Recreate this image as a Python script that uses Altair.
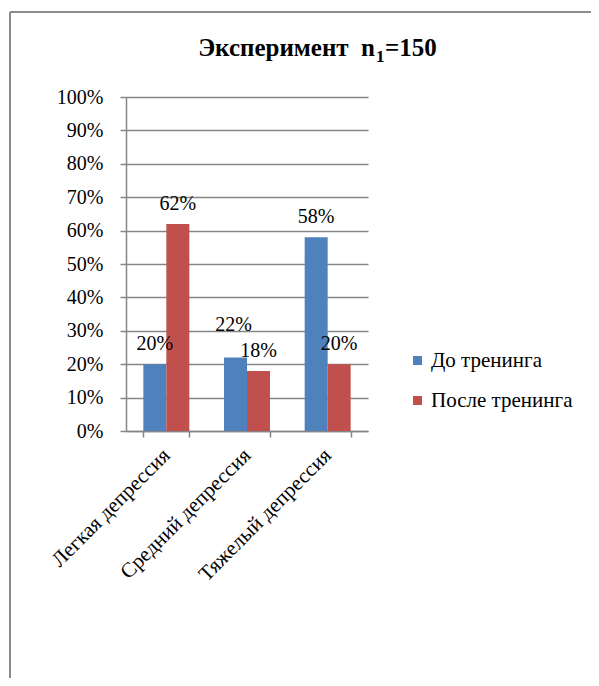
import altair as alt
import pandas as pd

categories = ["Легкая депрессия", "Средний депрессия", "Тяжелый депрессия"]
series = ["До тренинга", "После тренинга"]
before = [0.20, 0.22, 0.58]
after = [0.62, 0.18, 0.20]
colors = ["#4F81BD", "#C0504D"]
y_ticks = [0.0, 0.1, 0.2, 0.3, 0.4, 0.5, 0.6, 0.7, 0.8, 0.9, 1.0]

rows = []
for c, b, a in zip(categories, before, after):
    rows.append({"cat": c, "series": series[0], "value": b})
    rows.append({"cat": c, "series": series[1], "value": a})
df = pd.DataFrame(rows)

FONT = "Liberation Serif"
GRID = "#868686"

x_axis = alt.Axis(labelAngle=-45, labelAlign="right", labelBaseline="middle",
                  labelFontSize=21, labelFont=FONT, labelColor="black",
                  labelPadding=15, tickBand="extent", tickSize=6,
                  tickColor=GRID, domainColor=GRID, domainWidth=1.5,
                  tickWidth=1.5, grid=False, labelLimit=400)
y_axis = alt.Axis(format=".0%", values=y_ticks, labelOverlap=False,
                  labelFontSize=20, labelFont=FONT, labelColor="black",
                  labelPadding=17, tickSize=6, tickColor=GRID,
                  domainColor=GRID, domainWidth=1.5, tickWidth=1.5,
                  grid=True, gridColor=GRID, gridWidth=1.5)

x_scale = alt.Scale(paddingInner=0.43, paddingOuter=0.215)
xo_scale = alt.Scale(paddingInner=0, paddingOuter=0)
y_scale = alt.Scale(domain=[0, 1])

enc = dict(
    x=alt.X("cat:N", sort=categories, title=None, scale=x_scale, axis=x_axis),
    xOffset=alt.XOffset("series:N", sort=series, scale=xo_scale),
    y=alt.Y("value:Q", title=None, scale=y_scale, axis=y_axis),
)

bars = alt.Chart(df).mark_bar().encode(
    **enc,
    color=alt.Color("series:N", sort=series, title=None,
                    scale=alt.Scale(domain=series, range=colors),
                    legend=alt.Legend(orient="none", legendX=281, legendY=253,
                                      symbolType="square", symbolSize=81,
                                      symbolStrokeWidth=0,
                                      labelFont=FONT, labelFontSize=21,
                                      labelColor="black", labelOffset=3,
                                      rowPadding=18, padding=0, labelLimit=300))
)

moved = (alt.datum.cat == categories[1]) & (alt.datum.series == series[0])
labels = alt.Chart(df).transform_filter(~moved).mark_text(
    font=FONT, fontSize=20, color="black", baseline="alphabetic", dy=-14).encode(
    **enc, text=alt.Text("value:Q", format=".0%"))
labels2 = alt.Chart(df).transform_filter(moved).mark_text(
    font=FONT, fontSize=20, color="black", baseline="alphabetic", dy=-27, dx=-2).encode(
    **enc, text=alt.Text("value:Q", format=".0%"))

one = pd.DataFrame({"k": [0]})
frame_top = alt.Chart(one).mark_rule(color="#8c8c8c", strokeWidth=2).encode(
    x=alt.value(-116), x2=alt.value(470), y=alt.value(-85))
frame_left = alt.Chart(one).mark_rule(color="#8c8c8c", strokeWidth=2).encode(
    x=alt.value(-116), y=alt.value(-85), y2=alt.value(600))

t1 = alt.Chart(one).mark_text(text="Эксперимент\u00a0\u00a0n", font=FONT, fontSize=25,
                              fontWeight="bold", align="right",
                              baseline="alphabetic", color="black").encode(
    x=alt.value(249), y=alt.value(-41))
t2 = alt.Chart(one).mark_text(text="1", font=FONT, fontSize=17,
                              fontWeight="bold", align="left",
                              baseline="alphabetic", color="black").encode(
    x=alt.value(250), y=alt.value(-35))
t3 = alt.Chart(one).mark_text(text="=150", font=FONT, fontSize=25,
                              fontWeight="bold", align="left",
                              baseline="alphabetic", color="black").encode(
    x=alt.value(259), y=alt.value(-41))

chart = alt.layer(bars, labels, labels2, frame_top, frame_left, t1, t2, t3).properties(
    width=242, height=334,
    autosize=alt.AutoSizeParams(type="none"),
    padding={"left": 118, "top": 89, "right": 223, "bottom": 247},
).configure(font=FONT, background="white").configure_view(stroke=None)

chart.save("out.html", embed_options={"renderer": "svg", "actions": False})
